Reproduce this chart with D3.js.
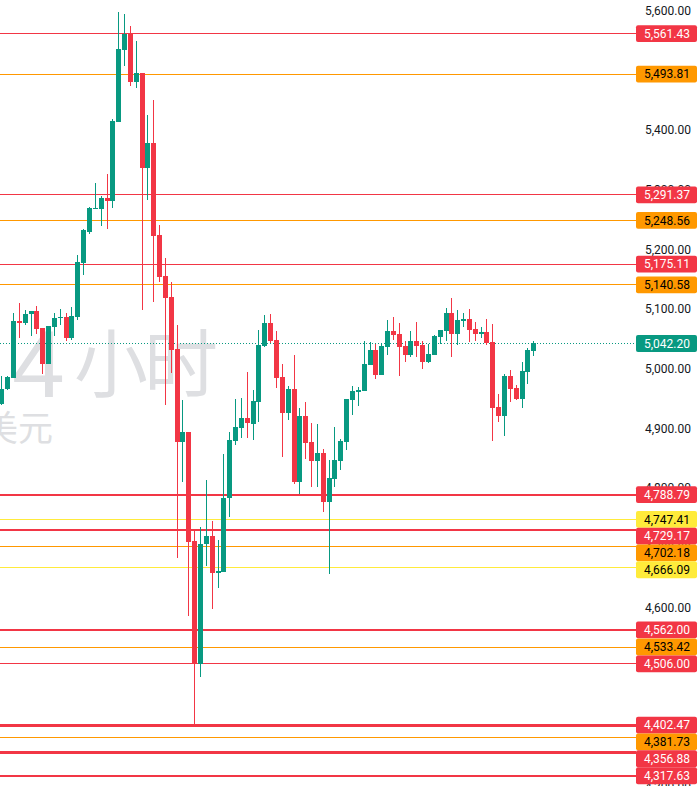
<!DOCTYPE html>
<html><head><meta charset="utf-8">
<script src="https://cdn.jsdelivr.net/npm/d3@7"></script>
<style>html,body{margin:0;padding:0;background:#fff;overflow:hidden}</style>
</head><body><div id="chart"></div>
<script>
// ---------- data ----------
const opens  = [4940.8,4966.0,4984.8,5079.9,5077.0,5091.1,5096.6,5068.2,5008.3,5070.3,5084.9,5086.6,5051.4,5086.6,5177.1,5229.6,5268.5,5268.1,5286.1,5281.5,5413.4,5534.6,5561.4,5481.0,5496.1,5336.8,5377.7,5224.0,5155.3,5120.1,5033.0,4877.6,4893.8,4711.1,4504.5,4705.5,4719.5,4656.9,4659.7,4782.7,4879.3,4901.0,4916.8,4907.7,4944.6,5037.9,5076.5,5048.0,4986.0,4926.2,4965.9,4810.5,4920.6,4877.1,4845.7,4858.6,4776.9,4815.5,4845.7,4877.6,4948.0,4961.4,4963.1,5006.1,5031.3,4989.4,5036.8,5063.1,5058.1,5037.9,5022.9,5046.4,5039.6,5011.2,5022.9,5053.1,5063.1,5093.3,5058.1,5080.4,5083.3,5066.5,5058.6,5061.4,5044.7,4935.7,4920.6,4987.7,4967.6,4949.2,4994.4,5029.6];
const highs  = [4987.7,4987.7,5093.3,5110.6,5098.3,5096.6,5105.0,5068.2,5071.5,5093.8,5100.0,5093.3,5103.4,5190.5,5233.6,5270.5,5311.2,5289.4,5326.8,5418.5,5597.8,5594.5,5574.4,5549.7,5496.1,5425.2,5450.3,5240.8,5186.0,5145.3,5073.2,4947.5,4893.8,4729.6,4734.6,4813.4,4744.6,4712.8,4856.9,4893.8,4949.2,4950.3,4994.4,4964.2,5064.8,5089.9,5091.6,5063.1,5007.8,4970.9,5022.9,4934.1,4943.6,4908.4,4907.2,4865.3,4846.9,4902.2,4881.6,4949.2,4970.9,4969.8,5046.4,5044.2,5041.3,5041.3,5081.6,5086.6,5076.5,5046.4,5063.1,5078.2,5046.4,5041.3,5056.4,5064.8,5101.7,5118.4,5098.3,5093.3,5100.0,5078.2,5070.3,5083.3,5074.9,4957.5,4991.1,4997.8,4972.6,5011.2,5034.6,5046.4];
const lows   = [4939.1,4964.2,4984.8,5051.9,5073.2,5054.7,5058.1,4990.5,5008.3,5054.7,5073.2,5046.4,5048.0,5082.1,5157.5,5225.2,5267.6,5239.6,5234.1,5269.8,5413.4,5507.8,5474.3,5470.9,5098.3,5282.7,5112.2,5145.8,4939.1,4993.2,4683.1,4810.5,4585.9,4403.0,4483.3,4669.7,4597.6,4632.8,4659.7,4751.8,4872.0,4884.3,4884.3,4880.4,4911.1,5036.8,5042.5,4968.1,4852.4,4913.9,4806.2,4789.9,4848.6,4802.1,4801.1,4760.2,4655.8,4802.1,4830.1,4863.7,4922.3,4937.4,4963.1,5006.1,4983.2,4989.4,5022.9,5048.0,4987.7,5011.2,5019.0,5019.5,4999.4,5009.5,5022.9,5040.8,5046.4,5019.5,5039.6,5069.8,5044.7,5046.4,5051.4,5039.6,4878.7,4910.6,4887.1,4944.1,4947.5,4934.1,4974.3,5021.2];
const closes = [4966.0,4986.5,5079.9,5077.0,5091.6,5096.6,5066.5,5008.3,5071.5,5084.9,5086.6,5051.4,5088.3,5178.8,5232.4,5268.8,5270.1,5286.1,5281.5,5415.1,5535.8,5561.4,5481.0,5496.1,5336.8,5377.7,5222.9,5154.1,5118.9,5031.3,4877.6,4893.8,4710.0,4504.5,4706.6,4719.5,4656.9,4660.8,4783.7,4880.4,4901.7,4916.8,4908.4,4945.8,5039.6,5076.5,5046.9,4984.8,4926.2,4965.9,4810.5,4920.6,4875.9,4845.7,4858.6,4776.9,4816.7,4846.9,4878.7,4949.2,4962.6,4964.2,5007.8,5031.3,4989.4,5037.9,5063.1,5056.9,5036.8,5022.9,5046.4,5037.9,5011.7,5024.6,5054.7,5064.8,5093.3,5058.1,5081.6,5083.3,5064.8,5058.6,5061.4,5043.0,4934.1,4920.6,4987.7,4965.9,4949.2,4996.1,5031.3,5042.2];

const tickValues = d3.range(4300, 5601, 100);

const levelValues   = [5561.43,5493.81,5291.37,5248.56,5175.11,5140.58,4788.79,4747.41,4729.17,4702.18,4666.09,4562.00,4533.42,4506.00,4402.47,4381.73,4356.88,4317.63];
const levelKinds    = ["major","minor","major","minor","major","minor","major","weak","major","minor","weak","major","minor","major","major","minor","major","major"];
const levelStrength = [1,1,1,1,1,1,2,1,2,1,1,2,1,1,3,1,3,2];

const lastPrice = 5042.20;
const watermarkMain = "4小时";
const watermarkSub = "美元";

// ---------- styles ----------
const W = 698, H = 786;
const UP = "#089981", DOWN = "#f23645";
const kindStyle = {
  major: {bg: "#f23645", fg: "#ffffff"},
  minor: {bg: "#ff9800", fg: "#000000"},
  weak:  {bg: "#ffeb3b", fg: "#000000"}
};
const FONT = "Roboto, 'Liberation Sans', Arial, sans-serif";

const svg = d3.select("#chart").append("svg")
  .attr("width", W).attr("height", H)
  .style("display", "block")
  .style("background", "#fff");

const plotRight = 636;
const y = d3.scaleLinear().domain([4300, 5600]).range([10.7 + 1300 * 0.5966, 10.7]);
const n = closes.length;
const x = d3.scaleLinear().domain([0, n - 1]).range([1.3, 1.3 + (n - 1) * 5.845]);

const snap = (v, w) => (w % 2 === 1) ? Math.floor(v) + 0.5 : Math.round(v);

// watermark
const wm = svg.append("g").attr("fill", "#dedfe2");
wm.append("text").attr("x", 12).attr("y", 397)
  .style("font-family", "'Liberation Sans', Arial, sans-serif").style("font-size", "95px")
  .text(watermarkMain.slice(0, 1));
wm.append("text").attr("x", 74).attr("y", 391)
  .style("font-family", "'Noto Sans CJK SC', sans-serif").style("font-size", "74px")
  .style("letter-spacing", "-4px")
  .text(watermarkMain.slice(1));
wm.append("text").attr("x", -17).attr("y", 441)
  .style("font-family", "'Noto Sans CJK SC', sans-serif").style("font-size", "35px")
  .text(watermarkSub);

// level lines
const lines = svg.append("g");
levelValues.forEach((v, i) => {
  const w = levelStrength[i];
  const yy = snap(y(v), w);
  lines.append("line")
    .attr("x1", 0).attr("x2", plotRight)
    .attr("y1", yy).attr("y2", yy)
    .attr("stroke", kindStyle[levelKinds[i]].bg)
    .attr("stroke-width", w);
});
// last price dotted line
{
  const yy = snap(y(lastPrice), 1);
  lines.append("line")
    .attr("x1", 0).attr("x2", plotRight)
    .attr("y1", yy).attr("y2", yy)
    .attr("stroke", UP).attr("stroke-width", 1)
    .attr("stroke-dasharray", "1,2");
}

// candles
const idx = d3.range(n);
const cg = svg.append("g");
cg.selectAll("line.wick").data(idx).join("line")
  .attr("class", "wick")
  .attr("x1", i => Math.round(x(i)) + 0.5)
  .attr("x2", i => Math.round(x(i)) + 0.5)
  .attr("y1", i => Math.round(y(highs[i])))
  .attr("y2", i => Math.round(y(lows[i])))
  .attr("stroke", i => closes[i] >= opens[i] ? UP : DOWN)
  .attr("stroke-width", 1);
cg.selectAll("rect.body").data(idx).join("rect")
  .attr("class", "body")
  .attr("x", i => Math.round(x(i)) - 2)
  .attr("width", 5)
  .attr("y", i => Math.round(y(Math.max(opens[i], closes[i]))))
  .attr("height", i => Math.max(1, Math.round(y(Math.min(opens[i], closes[i]))) - Math.round(y(Math.max(opens[i], closes[i])))))
  .attr("fill", i => closes[i] >= opens[i] ? UP : DOWN);

// price labels layout (stacked so they never overlap)
const fmt = d3.format(",.2f");
const labels = levelValues.map((v, i) => ({v, bg: kindStyle[levelKinds[i]].bg, fg: kindStyle[levelKinds[i]].fg}));
labels.push({v: lastPrice, bg: UP, fg: "#ffffff"});
labels.forEach(d => d.cy = y(d.v));
labels.sort((a, b) => a.cy - b.cy);
const LH = 16.8;
for (let k = 1; k < labels.length; k++) {
  labels[k].cy = Math.max(labels[k].cy, labels[k - 1].cy + LH);
}

// price axis tick labels (ticks fully hidden behind a label box are not drawn)
const hidden = v => labels.some(d => Math.abs(d.cy - y(v)) < 4.5);
const axis = d3.axisRight(y).tickValues(tickValues.filter(v => !hidden(v))).tickFormat(fmt).tickSize(0).tickPadding(0);
const ag = svg.append("g").attr("transform", `translate(${plotRight},0)`).call(axis);
ag.select(".domain").remove();
ag.selectAll("text")
  .attr("x", 55).attr("dy", "0.32em")
  .attr("text-anchor", "end")
  .attr("fill", "#131722")
  .style("font-family", FONT).style("font-size", "12px");

const lg = svg.append("g");
const lab = lg.selectAll("g").data(labels).join("g");
lab.append("rect")
  .attr("x", plotRight).attr("width", 61)
  .attr("y", d => d.cy - LH / 2).attr("height", LH)
  .attr("rx", 2)
  .attr("fill", d => d.bg);
lab.append("text")
  .attr("x", 690).attr("y", d => d.cy).attr("dy", "0.35em")
  .attr("text-anchor", "end")
  .attr("fill", d => d.fg)
  .style("font-family", FONT).style("font-size", "12px")
  .text(d => fmt(d.v));
</script>
</body></html>
